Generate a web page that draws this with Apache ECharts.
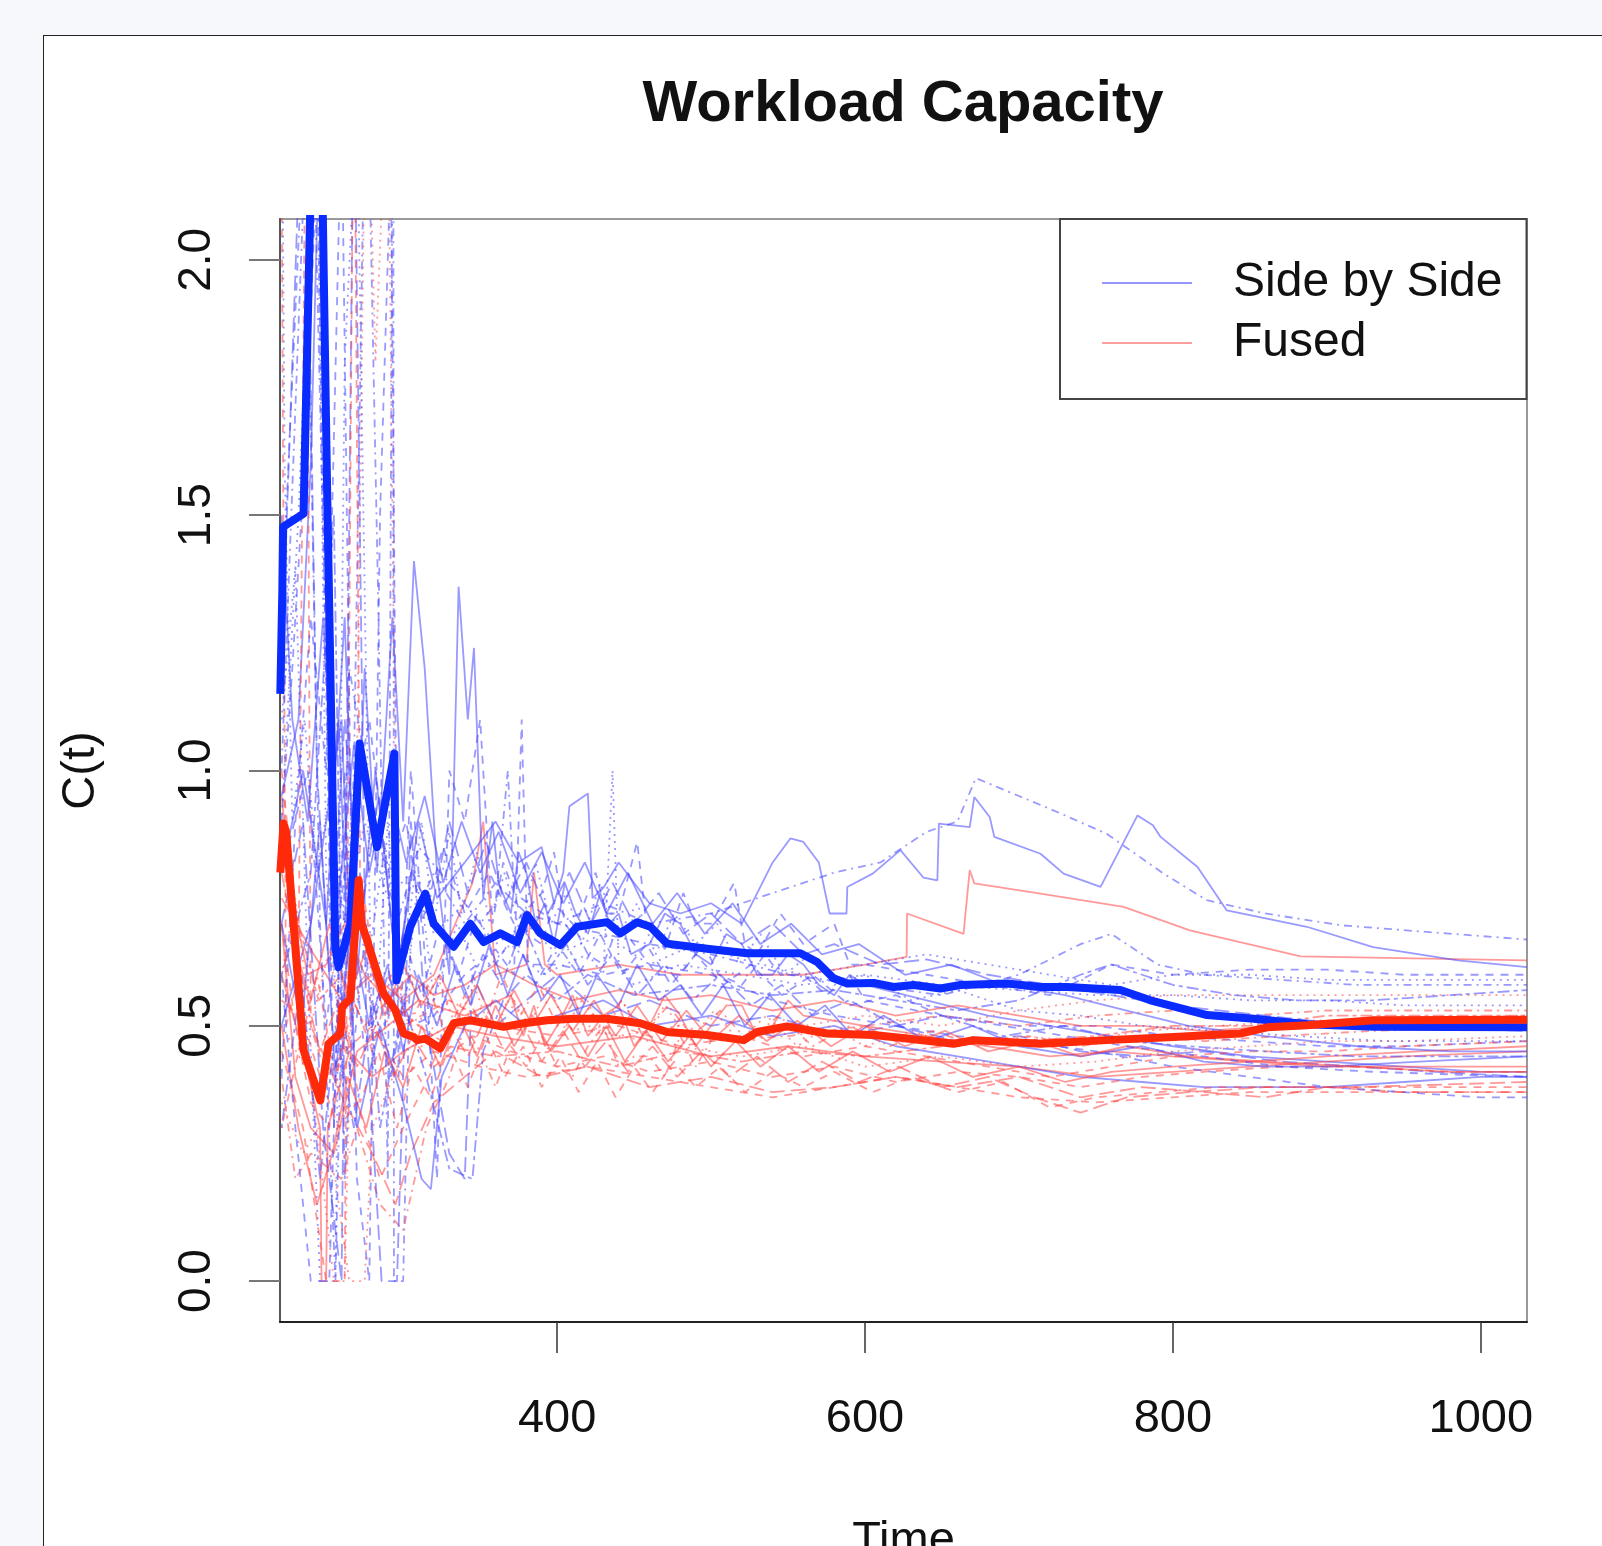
<!DOCTYPE html>
<html>
<head>
<meta charset="utf-8">
<script src="https://cdn.jsdelivr.net/npm/echarts@6.0.0/dist/echarts.min.js"></script>
<style>
html,body{margin:0;padding:0;width:1602px;height:1546px;overflow:hidden;background:#f6f8fc;}
#panel{position:absolute;left:43px;top:35px;width:1700px;height:1700px;background:#fff;border:1px solid #222;}
#chart{position:absolute;left:0;top:0;width:1602px;height:1546px;}
</style>
</head>
<body>
<div id="panel"></div>
<div id="chart"></div>
<script>
// ---- data (time, capacity) ----
const xTicks = [400, 600, 800, 1000];
const yTicks = [0, 0.5, 1.0, 1.5, 2.0];
const legendNames = ['Side by Side', 'Fused'];

const sbsMean = [[220.2,1.15],[221.5,1.35],[222,1.477],[235.3,1.503],[244.4,2.75],[250.5,1.568],[255.9,0.654],[258,0.615],[265.7,0.70],[271.7,1.053],[283,0.85],[294.3,1.033],[295.6,0.589],[304.6,0.694],[314.4,0.759],[319.8,0.70],[332.8,0.655],[343.6,0.70],[352.3,0.664],[363.1,0.681],[374,0.664],[380.5,0.717],[389.1,0.681],[402.1,0.658],[413,0.694],[432.4,0.703],[441,0.681],[452,0.703],[460.6,0.694],[471.4,0.661],[497.4,0.651],[523.4,0.642],[558,0.642],[568.9,0.625],[579.6,0.593],[588.4,0.583],[605.6,0.584],[618.6,0.576],[631.6,0.58],[649,0.573],[662,0.58],[692.3,0.583],[714,0.576],[731.3,0.576],[765.9,0.570],[785.4,0.550],[822.2,0.521],[852.5,0.514],[887.2,0.503],[930.5,0.498],[1030,0.497]];

const fusedMean = [[220.2,0.8],[222.3,0.896],[224,0.88],[235.3,0.452],[246.2,0.354],[251.6,0.465],[259.2,0.485],[260.3,0.537],[265.7,0.553],[271.1,0.785],[273,0.70],[276.5,0.668],[287.3,0.563],[294.9,0.531],[300.3,0.485],[306.8,0.478],[309,0.472],[314.4,0.475],[324.1,0.456],[332.8,0.505],[343.6,0.511],[365.3,0.498],[378.3,0.505],[393.5,0.511],[410.7,0.514],[432.4,0.514],[454,0.505],[471.4,0.488],[497.4,0.482],[521.2,0.472],[529.9,0.488],[549.4,0.499],[575.4,0.485],[605.6,0.482],[627.3,0.475],[657.6,0.465],[670.6,0.472],[713.9,0.465],[757.2,0.472],[800.5,0.478],[843.8,0.485],[861.2,0.497],[887.2,0.501],[930.5,0.511],[1030,0.512]];

const sbs1 = [[221,0.95],[232,1.1],[240,1.6],[246,2.3],[252,0.9],[258,1.1],[266,0.5],[275,1.2],[283,0.8],[293,1.3],[300,0.9],[307,1.41],[314,1.2],[322,0.8],[330,0.6],[336,1.36],[342,1.1],[346,1.24],[352,0.75],[358,0.9],[362,0.78],[370,0.72],[375,0.84],[380,0.8],[386,0.7],[392,0.74],[398,0.66],[405,0.78],[412,0.72],[420,0.68],[428,0.76],[434,0.7],[440,0.72],[448,0.64],[460,0.66],[470,0.72],[480,0.7],[490,0.64],[500,0.62],[510,0.68],[520,0.66],[530,0.6],[540,0.6],[550,0.64],[560,0.62],[570,0.58],[580,0.56],[590,0.6],[600,0.58],[640,0.55],[680,0.52],[720,0.5],[760,0.48],[800,0.46],[850,0.44],[900,0.43],[950,0.42],[1000,0.41],[1030,0.41]];
const sbs2 = [[221,0.8],[235,1.0],[250,0.7],[262,1.3],[270,0.6],[282,1.0],[296,0.6],[310,0.9],[322,0.75],[340,0.82],[360,0.9],[375,0.82],[390,0.85],[398,0.74],[404,0.8],[408,0.93],[420,0.955],[423,0.75],[430,0.77],[440,0.82],[460,0.74],[480,0.72],[500,0.74],[520,0.7],[540,0.82],[551.5,0.867],[560,0.86],[570,0.82],[577,0.72],[588,0.72],[588.5,0.772],[605,0.798],[623,0.844],[638,0.79],[647,0.785],[648,0.896],[668,0.889],[671,0.948],[681,0.909],[684,0.87],[714,0.837],[729,0.798],[753,0.772],[777,0.912],[787,0.893],[792,0.87],[816,0.811],[835,0.726],[887,0.694],[930,0.654],[985,0.628],[1030,0.615]];
const sbs3 = [[221,1.0],[240,2.5],[250,1.2],[260,0.4],[268,1.0],[276,2.5],[284,1.3],[290,0.2],[293.6,2.6],[294,0.0],[300,0.0],[305,0.7],[320,0.8],[340,0.7],[360,0.78],[380,0.72],[400,0.7],[430,0.74],[460,0.7],[500,0.72],[540,0.76],[580,0.8],[610,0.82],[640,0.88],[660,0.9],[672,0.985],[700,0.95],[727,0.916],[757,0.876],[794,0.798],[822,0.746],[860,0.72],[909,0.697],[960,0.685],[1030,0.669]];
const sbs4 = [[221,0.9],[228,1.2],[236,1.6],[244,2.2],[255,0.3],[262,1.0],[270,0.2],[278,0.0],[285,1.5],[292,2.2],[297,0.4],[305,1.0],[315,0.6],[322,0.2],[330,1.0],[340,0.9],[350,1.1],[358,0.7],[365,0.82],[372,0.76],[380,0.68],[390,0.66],[398,0.74],[410,0.7],[420,0.64],[430,0.62],[440,0.7],[450,0.66],[465,0.6],[480,0.6],[495,0.66],[505,0.6],[520,0.58],[535,0.64],[545,0.6],[560,0.6],[575,0.56],[590,0.6],[600,0.55],[650,0.52],[700,0.5],[750,0.5],[800,0.48],[850,0.47],[900,0.46],[950,0.46],[1030,0.47]];
const sbs5 = [[221,1.1],[230,1.4],[238,0.6],[246,0.0],[256,0.0],[262,1.8],[270,2.3],[280,0.4],[290,0.9],[300,0.5],[310,0.8],[320,0.55],[335,0.7],[350,0.6],[370,0.66],[390,0.6],[420,0.64],[430,0.6],[436,1.0],[440,0.62],[450,0.58],[480,0.62],[520,0.6],[560,0.58],[600,0.6],[650,0.58],[700,0.57],[750,0.56],[800,0.56],[850,0.55],[900,0.55],[950,0.54],[1030,0.54]];
const sbs6 = [[221,0.7],[235,0.9],[248,0.3],[260,0.0],[268,2.4],[276,0.5],[286,0.0],[296,0.0],[305,0.9],[315,0.5],[330,0.25],[340,0.2],[345,0.6],[360,0.5],[380,0.55],[400,0.6],[430,0.52],[460,0.55],[500,0.5],[540,0.52],[580,0.48],[620,0.5],[660,0.47],[700,0.48],[740,0.45],[780,0.44],[820,0.45],[870,0.43],[920,0.42],[970,0.41],[1030,0.4]];
const sbs7 = [[221,0.6],[240,0.8],[255,1.5],[262,0.2],[272,0.8],[285,0.3],[300,0.55],[315,0.4],[330,0.22],[345,0.2],[352,0.45],[365,0.55],[380,0.6],[400,0.55],[420,0.6],[450,0.56],[500,0.58],[540,0.56],[580,0.57],[620,0.55],[660,0.53],[700,0.55],[740,0.6],[760,0.62],[780,0.6],[800,0.58],[840,0.56],[880,0.55],[930,0.55],[980,0.56],[1030,0.57]];
const sbs8 = [[221,0.5],[240,0.7],[260,1.1],[270,0.3],[285,0.5],[300,0.35],[312,0.2],[318,0.18],[325,0.4],[340,0.5],[360,0.55],[380,0.5],[400,0.52],[430,0.55],[460,0.5],[500,0.52],[540,0.48],[580,0.5],[620,0.46],[660,0.44],[700,0.42],[740,0.4],[780,0.39],[820,0.38],[860,0.38],[900,0.38],[950,0.39],[1000,0.4],[1030,0.4]];
const sbs9 = [[221,0.8],[238,1.0],[250,0.5],[262,0.8],[275,0.45],[290,0.6],[305,0.5],[320,0.52],[340,0.6],[360,0.65],[372,0.6],[377,1.1],[381,0.62],[400,0.62],[430,0.6],[460,0.62],[500,0.6],[540,0.55],[580,0.52],[620,0.5],[660,0.48],[700,0.47],[750,0.45],[800,0.42],[850,0.4],[900,0.38],[950,0.37],[1000,0.36],[1030,0.36]];
const sbs10 = [[221,1.3],[236,2.3],[246,0.7],[256,0.0],[265,1.2],[282,0.9],[296,0.7],[310,0.85],[330,0.78],[350,0.7],[360,0.74],[368,1.0],[372,0.76],[400,0.7],[430,0.68],[460,0.66],[500,0.64],[550,0.6],[600,0.58],[650,0.56],[700,0.6],[740,0.66],[760,0.68],[790,0.62],[820,0.6],[870,0.59],[920,0.58],[970,0.58],[1030,0.58]];
const sbs11 = [[221,2.5],[223,1.6],[228,0.9],[236,1.1],[244,0.8],[252,0.95],[262,0.7],[275,0.9],[290,0.75],[305,0.8],[320,0.68],[340,0.74],[360,0.66],[380,0.7],[400,0.64],[430,0.68],[460,0.62],[490,0.66],[520,0.63],[560,0.6],[600,0.62],[640,0.64],[680,0.62],[720,0.6],[760,0.58],[800,0.6],[850,0.6],[900,0.59],[950,0.59],[1030,0.59]];
const sbs12 = [[221,0.4],[230,0.9],[240,1.3],[250,1.0],[260,2.3],[266,0.9],[278,1.1],[290,0.8],[302,0.9],[312,0.7],[326,0.85],[340,0.72],[356,0.8],[372,0.7],[390,0.76],[398,0.84],[405,0.7],[410,0.68],[425,0.8],[432,0.72],[440,0.72],[452,0.86],[458,0.7],[470,0.65],[482,0.76],[490,0.7],[500,0.7],[515,0.78],[522,0.66],[530,0.64],[545,0.72],[560,0.66],[580,0.7],[590,0.62],[600,0.62],[640,0.6],[680,0.58],[720,0.56],[760,0.62],[800,0.6],[850,0.61],[900,0.61],[950,0.6],[1030,0.6]];
const sbs13 = [[221,0.9],[232,1.5],[244,2.4],[250,0.8],[258,0.5],[266,0.9],[276,0.6],[288,0.85],[300,0.62],[312,0.9],[320,0.7],[330,0.88],[338,0.72],[348,0.84],[356,0.7],[366,0.8],[376,0.68],[386,0.82],[396,0.7],[406,0.76],[416,0.66],[428,0.78],[440,0.68],[452,0.74],[464,0.64],[476,0.72],[490,0.66],[504,0.7],[518,0.62],[532,0.68],[548,0.6],[564,0.64],[580,0.58],[600,0.6],[630,0.55],[660,0.57],[700,0.53],[740,0.52],[780,0.5],[830,0.49],[880,0.48],[940,0.47],[1030,0.47]];
const sbs14 = [[221,0.7],[234,0.5],[246,0.9],[256,0.4],[266,0.7],[278,0.5],[290,0.62],[300,0.45],[310,0.6],[322,0.5],[334,0.62],[344,0.54],[356,0.66],[368,0.56],[378,0.64],[390,0.55],[402,0.6],[414,0.52],[426,0.6],[440,0.54],[452,0.62],[466,0.55],[480,0.58],[494,0.52],[508,0.58],[522,0.5],[538,0.56],[556,0.5],[574,0.54],[592,0.48],[612,0.52],[640,0.47],[670,0.5],[700,0.46],[740,0.44],[780,0.46],[820,0.43],[860,0.42],[900,0.42],[960,0.43],[1030,0.44]];
const sbs15 = [[221,1.2],[228,1.8],[236,2.5],[244,1.0],[252,0.6],[262,1.1],[272,0.7],[284,0.95],[296,0.6],[306,0.8],[318,0.72],[330,0.9],[342,0.76],[354,0.86],[366,0.74],[380,0.82],[394,0.72],[408,0.8],[422,0.7],[436,0.78],[450,0.7],[466,0.76],[482,0.68],[500,0.72],[520,0.66],[540,0.7],[560,0.64],[580,0.66],[610,0.62],[640,0.63],[680,0.6],[720,0.58],[760,0.56],[800,0.54],[860,0.52],[920,0.5],[1030,0.49]];
const sbs16 = [[221,0.3],[234,0.6],[246,0.2],[256,0.5],[268,0.3],[280,0.55],[292,0.4],[304,0.6],[316,0.5],[328,0.66],[340,0.56],[352,0.64],[364,0.58],[378,0.7],[392,0.6],[406,0.66],[420,0.58],[436,0.64],[452,0.56],[470,0.62],[488,0.55],[506,0.6],[526,0.54],[546,0.58],[566,0.52],[590,0.55],[620,0.5],[650,0.52],[690,0.48],[730,0.5],[770,0.47],[810,0.46],[860,0.45],[920,0.44],[1030,0.44]];
const sbs17 = [[221,1.5],[228,1.1],[238,0.9],[248,1.3],[258,0.75],[268,1.05],[278,0.8],[290,0.98],[302,0.82],[314,0.95],[326,0.78],[338,0.9],[350,0.8],[362,0.88],[376,0.76],[390,0.84],[404,0.74],[418,0.82],[432,0.72],[446,0.8],[462,0.7],[478,0.76],[496,0.68],[514,0.74],[532,0.66],[552,0.7],[572,0.64],[596,0.66],[626,0.6],[656,0.62],[690,0.58],[730,0.56],[770,0.53],[810,0.5],[860,0.48],[920,0.46],[980,0.45],[1030,0.45]];
const sbs18 = [[221,0.6],[230,0.3],[240,0.0],[252,0.0],[258,0.6],[266,0.4],[276,0.7],[288,0.5],[300,0.68],[312,0.56],[324,0.7],[336,0.6],[348,0.72],[360,0.62],[372,0.68],[386,0.58],[400,0.66],[414,0.6],[428,0.68],[442,0.6],[458,0.66],[474,0.58],[490,0.64],[508,0.58],[526,0.62],[546,0.56],[566,0.6],[590,0.54],[620,0.56],[650,0.52],[690,0.5],[730,0.48],[770,0.46],[820,0.44],[870,0.42],[930,0.41],[1030,0.4]];

const fused1 = [[221,0.75],[240,0.65],[260,0.55],[280,0.6],[300,0.55],[320,0.6],[345,0.78],[352,0.9],[360,0.6],[380,0.62],[385,0.8],[392,0.62],[400,0.6],[440,0.62],[480,0.6],[520,0.6],[560,0.6],[600,0.62],[627,0.635],[627.3,0.72],[664,0.68],[668,0.805],[671,0.779],[714,0.759],[768,0.733],[811,0.687],[883,0.636],[1030,0.628]];
const fused2 = [[221,0.6],[235,0.45],[246,0.3],[247,0.0],[250,0.0],[251,0.3],[265,0.45],[280,0.4],[300,0.45],[330,0.5],[360,0.48],[400,0.46],[450,0.48],[500,0.44],[550,0.46],[600,0.44],[650,0.43],[700,0.42],[750,0.4],[800,0.41],[850,0.42],[900,0.43],[950,0.44],[1030,0.45]];
const fused3 = [[220.5,2.5],[222,1.6],[224,0.5],[232,0.6],[237,2.5],[240,0.5],[250,0.4],[262,0.45],[280,0.5],[300,0.4],[320,0.45],[350,0.42],[380,0.4],[420,0.42],[460,0.4],[500,0.38],[540,0.36],[580,0.38],[620,0.4],[660,0.38],[700,0.36],[750,0.35],[800,0.36],[850,0.37],[900,0.37],[950,0.37],[1030,0.37]];
const fused4 = [[221,0.5],[240,0.4],[255,0.0],[262,0.0],[270,1.0],[276,2.5],[282,1.8],[290,2.4],[296,0.6],[310,0.45],[330,0.55],[360,0.5],[400,0.52],[440,0.48],[480,0.5],[520,0.47],[560,0.5],[600,0.52],[650,0.5],[700,0.53],[750,0.55],[800,0.56],[850,0.56],[900,0.56],[950,0.56],[1030,0.56]];
const fused5 = [[221,0.4],[230,0.2],[240,0.25],[260,0.2],[270,0.3],[285,0.15],[300,0.1],[315,0.3],[330,0.4],[340,0.5],[350,0.45],[360,0.38],[370,0.46],[380,0.42],[390,0.48],[400,0.42],[410,0.4],[420,0.46],[430,0.5],[440,0.42],[450,0.44],[460,0.44],[470,0.4],[480,0.48],[490,0.42],[500,0.47],[550,0.48],[600,0.5],[650,0.52],[700,0.5],[750,0.52],[800,0.53],[850,0.52],[900,0.53],[950,0.53],[1030,0.53]];
const fused6 = [[221,0.55],[240,0.5],[262,0.35],[280,0.25],[295,0.15],[305,0.25],[320,0.35],[340,0.4],[360,0.45],[390,0.4],[420,0.42],[460,0.38],[500,0.4],[540,0.37],[580,0.38],[620,0.4],[660,0.38],[700,0.4],[740,0.36],[780,0.38],[820,0.37],[860,0.36],[900,0.38],[950,0.37],[1030,0.37]];
const fused7 = [[221,0.85],[232,0.7],[245,0.55],[260,0.6],[275,0.5],[290,0.55],[310,0.5],[330,0.46],[360,0.44],[400,0.45],[440,0.42],[480,0.45],[520,0.43],[560,0.45],[600,0.44],[650,0.46],[700,0.47],[750,0.48],[800,0.5],[850,0.5],[900,0.52],[950,0.52],[1030,0.52]];
const fused8 = [[221,0.7],[230,0.4],[240,0.3],[255,0.25],[270,0.45],[290,0.5],[310,0.55],[340,0.52],[370,0.56],[378,0.48],[385,0.54],[392,0.46],[400,0.5],[410,0.56],[420,0.48],[430,0.52],[440,0.54],[450,0.46],[460,0.5],[470,0.56],[480,0.52],[490,0.46],[500,0.5],[510,0.54],[520,0.54],[530,0.48],[540,0.5],[550,0.55],[560,0.52],[600,0.5],[640,0.48],[680,0.46],[720,0.44],[760,0.45],[800,0.44],[850,0.43],[900,0.42],[950,0.42],[1030,0.42]];
const fused9 = [[221,0.45],[235,0.3],[250,0.0],[262,0.0],[268,2.5],[272,0.8],[285,0.55],[300,0.5],[330,0.55],[360,0.5],[400,0.48],[440,0.5],[480,0.46],[520,0.48],[560,0.44],[600,0.46],[640,0.44],[680,0.42],[720,0.4],[760,0.42],[800,0.44],[850,0.45],[900,0.45],[950,0.46],[1030,0.47]];
const fused10 = [[221,0.35],[235,0.25],[245,0.3],[256,0.2],[265,0.0],[275,0.0],[280,0.3],[300,0.45],[330,0.5],[360,0.55],[400,0.5],[440,0.48],[480,0.46],[520,0.44],[560,0.46],[600,0.42],[650,0.44],[700,0.42],[750,0.43],[800,0.45],[850,0.46],[900,0.47],[950,0.47],[1030,0.48]];
const fused11 = [[221,1.0],[228,0.8],[236,0.5],[246,0.4],[258,0.3],[270,0.35],[285,0.2],[300,0.3],[320,0.42],[345,0.48],[370,0.45],[400,0.42],[430,0.44],[460,0.41],[500,0.43],[540,0.4],[580,0.42],[620,0.39],[660,0.41],[700,0.4],[740,0.38],[780,0.4],[820,0.41],[870,0.42],[920,0.42],[980,0.41],[1030,0.41]];
const fused12 = [[221,0.95],[228,0.75],[238,0.6],[250,0.62],[262,0.7],[275,0.6],[290,0.55],[305,0.6],[320,0.56],[340,0.58],[360,0.62],[385,0.58],[410,0.55],[440,0.57],[470,0.55],[500,0.56],[540,0.53],[580,0.55],[620,0.52],[660,0.54],[700,0.52],[740,0.5],[780,0.5],[820,0.49],[870,0.5],[920,0.5],[980,0.5],[1030,0.5]];
const fused13 = [[221,0.7],[230,0.5],[240,0.35],[252,0.3],[262,0.5],[272,0.35],[284,0.45],[296,0.3],[306,0.42],[318,0.36],[330,0.46],[342,0.38],[354,0.48],[366,0.4],[378,0.46],[390,0.38],[402,0.44],[414,0.37],[426,0.43],[438,0.36],[450,0.42],[462,0.37],[476,0.43],[490,0.38],[506,0.42],[522,0.37],[540,0.41],[560,0.38],[580,0.41],[605,0.37],[630,0.4],[660,0.37],[690,0.39],[720,0.34],[750,0.36],[790,0.37],[830,0.38],[880,0.38],[940,0.38],[1030,0.38]];
const fused14 = [[221,0.6],[230,0.75],[240,0.5],[252,0.65],[262,0.45],[274,0.6],[286,0.48],[298,0.58],[310,0.5],[322,0.6],[334,0.5],[346,0.58],[358,0.48],[370,0.56],[382,0.5],[394,0.58],[406,0.5],[418,0.56],[430,0.48],[442,0.55],[456,0.48],[470,0.54],[486,0.47],[502,0.53],[518,0.47],[536,0.52],[556,0.46],[576,0.5],[600,0.46],[630,0.49],[660,0.46],[700,0.48],[740,0.47],[780,0.49],[830,0.5],[880,0.51],[940,0.51],[1030,0.52]];
const fused15 = [[221,0.5],[232,0.3],[244,0.15],[254,0.25],[264,0.4],[276,0.3],[288,0.45],[300,0.38],[312,0.5],[324,0.42],[336,0.52],[348,0.44],[360,0.54],[372,0.46],[384,0.52],[396,0.45],[408,0.5],[420,0.44],[432,0.5],[444,0.43],[458,0.49],[472,0.43],[486,0.48],[500,0.42],[516,0.47],[532,0.42],[550,0.46],[570,0.41],[592,0.45],[616,0.41],[642,0.44],[670,0.4],[700,0.42],[730,0.39],[760,0.41],[800,0.42],[850,0.43],[900,0.44],[960,0.45],[1030,0.46]];
const fused16 = [[221,0.8],[234,0.6],[246,0.45],[258,0.55],[270,0.42],[282,0.5],[294,0.4],[306,0.48],[318,0.42],[330,0.5],[342,0.44],[354,0.52],[366,0.45],[378,0.5],[390,0.43],[404,0.49],[418,0.42],[432,0.47],[446,0.41],[462,0.46],[478,0.4],[494,0.45],[512,0.4],[530,0.44],[550,0.39],[572,0.43],[596,0.39],[622,0.42],[650,0.38],[680,0.4],[710,0.36],[740,0.33],[770,0.36],[810,0.37],[860,0.38],[920,0.38],[1030,0.39]];
const fused17 = [[221,0.3],[232,0.45],[244,0.6],[256,0.4],[268,0.55],[280,0.45],[292,0.6],[304,0.5],[316,0.58],[328,0.48],[340,0.56],[352,0.5],[364,0.6],[376,0.52],[388,0.58],[400,0.5],[414,0.56],[428,0.5],[442,0.55],[456,0.48],[472,0.54],[488,0.48],[506,0.53],[524,0.47],[544,0.52],[566,0.46],[590,0.5],[616,0.46],[644,0.49],[674,0.46],[706,0.48],[740,0.46],[780,0.48],[820,0.47],[870,0.48],[930,0.49],[1030,0.5]];
const fused18 = [[221,0.9],[230,0.65],[240,0.55],[252,0.7],[264,0.55],[276,0.65],[288,0.52],[300,0.62],[312,0.54],[324,0.6],[336,0.52],[348,0.58],[360,0.5],[372,0.57],[384,0.5],[396,0.56],[410,0.49],[424,0.55],[438,0.48],[452,0.54],[468,0.47],[484,0.53],[500,0.47],[518,0.52],[536,0.47],[556,0.51],[578,0.46],[600,0.5],[626,0.46],[652,0.49],[680,0.45],[710,0.47],[740,0.44],[770,0.46],[810,0.44],[860,0.43],[920,0.42],[980,0.41],[1030,0.41]];

const sbsThin = [sbs1, sbs2, sbs3, sbs4, sbs5, sbs6, sbs7, sbs8, sbs9, sbs10, sbs11, sbs12, sbs13, sbs14, sbs15, sbs16, sbs17, sbs18];
const fusedThin = [fused1, fused2, fused3, fused4, fused5, fused6, fused7, fused8, fused9, fused10, fused11, fused12, fused13, fused14, fused15, fused16, fused17, fused18];

// ---- styles ----
const dashSbs = ['solid','solid',[2,5,8,5],[8,7],[2,5],[15,6],[4,4,12,4],'solid',[8,7],[2,5,8,5],[2,5],[8,7],[2,5],'solid',[15,6],[4,4,12,4],'solid',[8,7]];
const dashFused = ['solid','solid',[8,7],[2,5],[2,5,8,5],[15,6],[4,4,12,4],'solid',[8,7],[2,5],[8,7],'solid',[8,7],[2,5],'solid',[15,6],[2,5,8,5],'solid'];
const thinBlue = 'rgba(70,70,255,0.55)';
const thinRed = 'rgba(255,70,70,0.55)';
const FONT = '"Liberation Sans", Arial, Helvetica, sans-serif';

function thin(name, data, color, dash) {
  return {type:'line', name:name, data:data, symbol:'none', showSymbol:false, silent:true,
    lineStyle:{color:color, width:1.8, type:dash}, emphasis:{disabled:true}, z:2, clip:true};
}
const series = [];
for (let i = 0; i < fusedThin.length; i++) {
  series.push(thin(legendNames[1], fusedThin[i], thinRed, dashFused[i]));
  series.push(thin(legendNames[0], sbsThin[i], thinBlue, dashSbs[i]));
}
series.push({type:'line', name:'Side by Side mean', data:sbsMean, symbol:'none', silent:true, z:4, clip:true,
  lineStyle:{color:'#0a2bff', width:8, join:'round'}, emphasis:{disabled:true}});
series.push({type:'line', name:'Fused mean', data:fusedMean, symbol:'none', silent:true, z:4, clip:true,
  lineStyle:{color:'#ff2a0a', width:8, join:'round'}, emphasis:{disabled:true}});

const chart = echarts.init(document.getElementById('chart'), null, {renderer:'canvas'});
chart.setOption({
  animation:false,
  backgroundColor:'transparent',
  textStyle:{fontFamily:FONT},
  grid:{left:280, top:219, width:1247, height:1103, show:true, borderColor:'#999', borderWidth:2,
    backgroundColor:'transparent', containLabel:false, outerBoundsMode:'none'},
  graphic:[{type:'text', x:903, y:105, z:10, style:{text:'Workload Capacity', font:'bold 58px ' + FONT, fill:'#111', align:'center', verticalAlign:'middle'}}],
  legend:{orient:'vertical', left:1060, top:219, itemWidth:90, itemHeight:2, itemGap:0, padding:[34,24,26,42],
    backgroundColor:'#fff', borderColor:'#444', borderWidth:2, selectedMode:false, z:20,
    textStyle:{fontSize:48, lineHeight:60, color:'#111', fontFamily:FONT, padding:[0,0,0,36]},
    data:[{name:legendNames[0], icon:'rect', itemStyle:{color:'rgb(150,150,255)'}},
          {name:legendNames[1], icon:'rect', itemStyle:{color:'rgb(255,160,160)'}}]},
  xAxis:{type:'value', min:220, max:1030, name:'Time', nameLocation:'middle', nameGap:196,
    nameTextStyle:{fontSize:47, color:'#111', fontFamily:FONT},
    axisLine:{show:true, onZero:false, lineStyle:{color:'#222', width:2}},
    axisTick:{show:true, length:31, customValues:xTicks, lineStyle:{color:'#333', width:1.5}},
    axisLabel:{show:true, customValues:xTicks, margin:74, fontSize:47, color:'#111', fontFamily:FONT,
      formatter:function(v){return String(v);}},
    splitLine:{show:false}},
  yAxis:{type:'value', min:-0.08, max:2.08, name:'C(t)', nameLocation:'middle', nameGap:175, nameRotate:90,
    nameTextStyle:{fontSize:47, color:'#111', fontFamily:FONT},
    axisLine:{show:true, onZero:false, lineStyle:{color:'#555', width:2}},
    axisTick:{show:true, length:31, customValues:yTicks, lineStyle:{color:'#777', width:2}},
    axisLabel:{show:true, customValues:yTicks, rotate:90, margin:60, fontSize:46, color:'#111', fontFamily:FONT,
      formatter:function(v){return v.toFixed(1);}},
    splitLine:{show:false}},
  series:series
});
</script>
</body>
</html>
